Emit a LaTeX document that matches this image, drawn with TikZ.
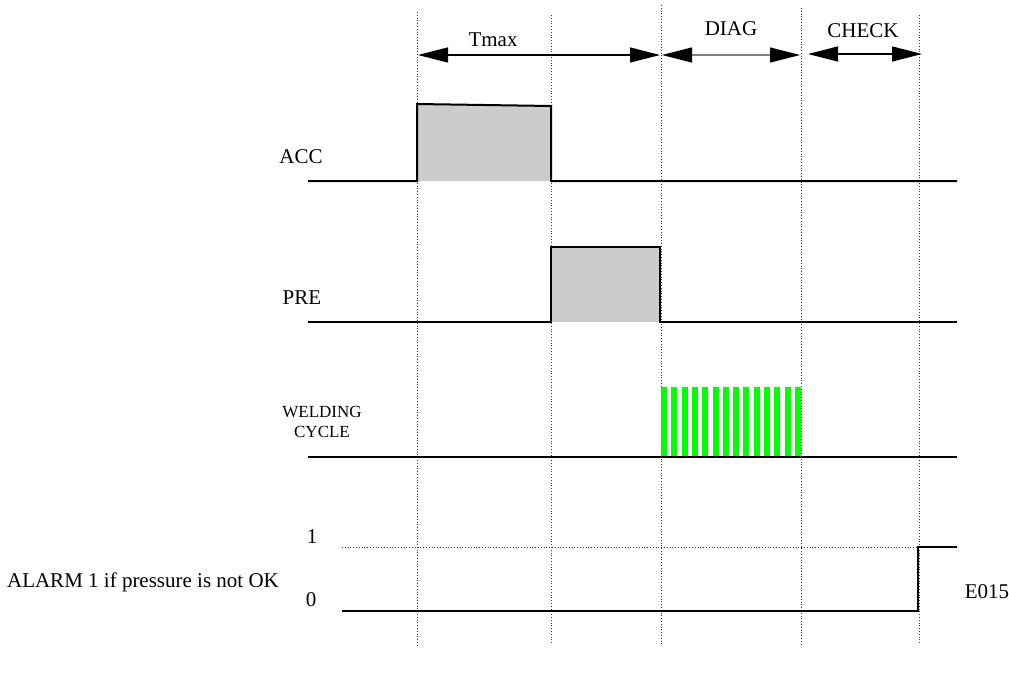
\documentclass[tikz,border=0pt]{standalone}
\usepackage{fontspec}
\setmainfont{Liberation Serif}
\usetikzlibrary{arrows.meta}

\tikzset{
  wave/.style={line width=1pt, black},
  grid line/.style={densely dotted, line width=0.4pt, black!75},
  span/.style={{Triangle[length=15pt,width=7.5pt,color=black]}-{Triangle[length=15pt,width=7.5pt,color=black]}, line width=0.6pt},
  lbl/.style={font=\fontsize{10.5}{12}\selectfont, inner sep=0pt},
  small lbl/.style={font=\fontsize{8.5}{10}\selectfont, inner sep=0pt, align=center}
}

\begin{document}
\begin{tikzpicture}[x=0.5pt, y=-0.5pt]
\useasboundingbox (0,0) rectangle (1009,675);
% time marks
\coordinate (t1) at (417,0);
\coordinate (t2) at (551,0);
\coordinate (t3) at (661,0);
\coordinate (t4) at (801,0);
\coordinate (t5) at (919,0);
\draw[grid line] (t1 |- 0,12) -- (t1 |- 0,645);
\draw[grid line] (t2 |- 0,15) -- (t2 |- 0,645);
\draw[grid line] (t3 |- 0,5) -- (t3 |- 0,645);
\draw[grid line] (t4 |- 0,8) -- (t4 |- 0,645);
\draw[grid line] (t5 |- 0,15) -- (t5 |- 0,645);
% phases
\coordinate (a1) at (418,55);
\coordinate (a2) at (660,55);
\coordinate (a3) at (662,55);
\coordinate (a4) at (800,55);
\coordinate (a5) at (808,54);
\coordinate (a6) at (922,54);
\draw[span] (a1) -- (a2);
\draw[span, draw=gray] (a3) -- (a4);
\draw[span] (a5) -- (a6);
\node[lbl] (tmax) at (493,40) {Tmax};
\node[lbl] (diag) at (731,29) {DIAG};
\node[lbl] (check) at (863,31) {CHECK};
% ACC
\node[lbl] (acc) at (301,157) {ACC};
\fill[black!20] (417,181) -- (417,104) -- (551,106) -- (551,181) -- cycle;
\draw[wave] (308,181) -- (417,181) -- (417,104) -- (551,106) -- (551,181) -- (957,181);
% PRE
\node[lbl] (pre) at (302,298) {PRE};
\fill[black!20] (551,322) rectangle (660,247);
\draw[wave] (308,322) -- (551,322) -- (551,247) -- (660,247) -- (660,322) -- (957,322);
% WELDING CYCLE
\node[small lbl] (weld) at (322,422) {WELDING\\CYCLE};
\foreach \i in {0,...,13} {
  \fill[green] (661+\i*10.3,387) rectangle ++(6,70);
}
\draw[wave] (308,457) -- (957,457);
% ALARM
\node[lbl] (alarm) at (143,582) {ALARM 1 if pressure is not OK};
\node[lbl] (one) at (312,537) {1};
\node[lbl] (zero) at (311,600) {0};
\node[lbl] (err) at (987,592) {E015};
\draw[grid line] (342,547) -- (918,547);
\draw[wave] (342,611) -- (918,611) -- (918,547) -- (957,547);
\end{tikzpicture}
\end{document}
